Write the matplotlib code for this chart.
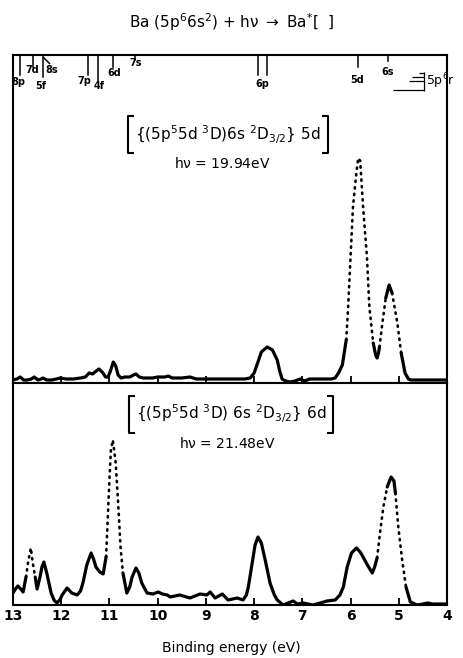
import matplotlib
matplotlib.use("Agg")
import matplotlib.pyplot as plt
from matplotlib.lines import Line2D
import numpy as np

plt.rcParams['font.family'] = ['DejaVu Sans']
plt.rcParams['mathtext.default'] = 'regular'

# spectrum for hv = 19.94 eV (5d satellite), binding energy in eV, intensity arb. units
top_energy = [13.0, 12.92, 12.85, 12.78, 12.7, 12.62, 12.56, 12.48, 12.42, 12.38,
              12.3, 12.2, 12.1, 12.02, 11.9, 11.75, 11.6, 11.5, 11.42, 11.35,
              11.3, 11.22, 11.15, 11.08, 11.03, 10.98, 10.92, 10.87, 10.82, 10.76,
              10.68, 10.58, 10.5, 10.45, 10.38, 10.3, 10.2, 10.1, 10.0, 9.85,
              9.78, 9.7, 9.5, 9.33, 9.2, 9.0, 8.8, 8.6, 8.4, 8.2,
              8.08, 8.0, 7.92, 7.85, 7.73, 7.62, 7.55, 7.52, 7.47, 7.42,
              7.35, 7.25, 7.15, 7.05, 6.95, 6.85, 6.7, 6.5, 6.4, 6.32,
              6.25, 6.17, 6.09, 6.05, 6.0, 5.95, 5.88, 5.84, 5.8, 5.74,
              5.66, 5.61, 5.53, 5.48, 5.45, 5.42, 5.4, 5.34, 5.27, 5.2,
              5.14, 5.08, 5.03, 4.95, 4.87, 4.8, 4.75, 4.5, 4.3, 4.0]
top_counts = [3, 4, 6, 3, 3, 4, 6, 3, 4, 5,
              3, 3, 4, 5, 4, 4, 5, 6, 10, 9,
              11, 14, 11, 6, 6, 12, 21, 17, 8, 5,
              6, 6, 8, 9, 6, 5, 5, 5, 6, 6,
              7, 5, 5, 6, 4, 4, 4, 4, 4, 4,
              5, 10, 21, 31, 36, 33, 26, 23, 12, 4,
              2, 1, 2, 4, 2, 4, 4, 4, 4, 5,
              10, 18, 43, 76, 126, 176, 210, 225, 222, 176,
              126, 76, 40, 28, 25, 30, 36, 60, 85, 98,
              90, 74, 60, 30, 10, 4, 3, 3, 3, 3]
top_dotted = [(6.09, 5.53), (5.40, 5.27), (5.14, 4.95)]

# spectrum for hv = 21.48 eV (6d satellite)
bottom_energy = [13.0, 12.95, 12.9, 12.84, 12.79, 12.73, 12.69, 12.63, 12.59, 12.54,
                 12.5, 12.44, 12.4, 12.36, 12.3, 12.21, 12.15, 12.09, 12.03, 11.98,
                 11.88, 11.78, 11.67, 11.6, 11.55, 11.47, 11.38, 11.33, 11.28, 11.2,
                 11.13, 11.07, 11.03, 11.0, 10.97, 10.93, 10.87, 10.82, 10.77, 10.72,
                 10.64, 10.58, 10.53, 10.45, 10.39, 10.33, 10.22, 10.1, 9.99, 9.9,
                 9.8, 9.74, 9.54, 9.33, 9.12, 8.98, 8.91, 8.81, 8.66, 8.54,
                 8.35, 8.23, 8.16, 8.12, 8.04, 7.98, 7.92, 7.85, 7.77, 7.67,
                 7.58, 7.52, 7.4, 7.19, 7.1, 6.98, 6.78, 6.63, 6.49, 6.32,
                 6.22, 6.15, 6.07, 5.98, 5.88, 5.8, 5.74, 5.65, 5.55, 5.5,
                 5.45, 5.39, 5.32, 5.24, 5.16, 5.1, 5.07, 5.01, 4.93, 4.85,
                 4.76, 4.62, 4.5, 4.4, 4.3, 4.0]
bottom_counts = [12, 16, 19, 16, 13, 28, 42, 57, 42, 28,
                 16, 28, 38, 43, 32, 12, 5, 2, 5, 10,
                 17, 12, 10, 14, 22, 40, 52, 46, 38, 33,
                 31, 48, 92, 125, 155, 165, 142, 102, 58, 32,
                 12, 18, 28, 37, 32, 22, 12, 11, 13, 11,
                 10, 8, 10, 7, 11, 10, 13, 7, 11, 5,
                 7, 5, 10, 18, 42, 60, 68, 62, 45, 22,
                 10, 5, 0, 4, 1, 2, 0, 2, 4, 5,
                 10, 18, 38, 52, 57, 53, 48, 40, 32, 38,
                 47, 72, 98, 118, 128, 124, 112, 78, 45, 18,
                 3, 0, 1, 2, 1, 1]
bottom_dotted = [(12.73, 12.54), (11.07, 10.72), (5.45, 5.24), (5.07, 4.85)]

x_ticks = [13, 12, 11, 10, 9, 8, 7, 6, 5, 4]

# atomic Ba levels marked along the top
level_energies = [12.85, 12.58, 12.38, 11.44, 11.24, 10.93, 10.47, 7.92, 7.73, 5.84, 5.22]
level_lengths = [20, 12, 22, 20, 27, 12, 5, 20, 20, 12, 6]  # px
level_labels = [('8p', 18, 82), ('7d', 32, 70), ('5f', 41, 86), ('8s', 52, 70),
                ('7p', 84, 81), ('4f', 99, 86), ('6d', 114, 73), ('7s', 136, 63),
                ('6p', 262, 84), ('5d', 357, 80), ('6s', 388, 72)]

W, H = 463, 658


def fx(x):
    return x / W


def fy(y):
    return 1 - y / H


def line(xs, ys, lw=1.0):
    fig.add_artist(Line2D([fx(v) for v in xs], [fy(v) for v in ys],
                          color='black', lw=lw, solid_capstyle='butt'))


def bracket(x, y0, y1, side):
    # tall square bracket drawn as lines; side=+1 opens right, -1 opens left
    line([x + side * 6, x, x, x + side * 6], [y0, y0, y1, y1], lw=1.5)


def draw_trace(ax, energy, counts, dotted):
    e = np.asarray(energy, dtype=float)
    c = np.asarray(counts, dtype=float)
    is_dot = np.array([any(lo - 1e-9 <= v <= hi + 1e-9 for hi, lo in dotted) for v in e])
    seg_dot = is_dot[:-1] & is_dot[1:]
    start = 0
    for i in range(1, len(seg_dot) + 1):
        if i == len(seg_dot) or seg_dot[i] != seg_dot[start]:
            xs, ys = e[start:i + 1], c[start:i + 1]
            if seg_dot[start]:
                ax.plot(xs, ys, color='black', lw=1.9, ls=(0, (0.5, 2.0)),
                        dash_capstyle='round')
            else:
                ax.plot(xs, ys, color='black', lw=2.3,
                        solid_joinstyle='round', solid_capstyle='round')
            start = i


fig = plt.figure(figsize=(W / 100, H / 100), dpi=100)
fig.patch.set_facecolor('white')

ax_top = fig.add_axes([fx(13), fy(383), fx(447) - fx(13), 328 / H])
ax_bot = fig.add_axes([fx(13), fy(605), fx(447) - fx(13), 222 / H])

draw_trace(ax_top, top_energy, top_counts, top_dotted)
draw_trace(ax_bot, bottom_energy, bottom_counts, bottom_dotted)

ax_top.set_ylim(0, 328)
ax_bot.set_ylim(0, 222)
for ax in (ax_top, ax_bot):
    ax.set_xlim(13, 4)
    ax.set_xticks(x_ticks)
    ax.set_yticks([])
    ax.tick_params(axis='x', direction='in', length=5, width=1.3, top=False)
    for sp in ax.spines.values():
        sp.set_linewidth(1.5)
ax_top.set_xticklabels([])
ax_bot.set_xticklabels([str(t) for t in x_ticks], fontsize=10, fontweight='bold')
ax_bot.tick_params(axis='x', pad=3)

# level markers hanging from the top frame
trans = ax_top.get_xaxis_transform()
for e, L in zip(level_energies, level_lengths):
    ax_top.plot([e, e], [1, 1 - L / 328], color='black', lw=1.1,
                transform=trans, clip_on=False)
for name, x, y in level_labels:
    fig.text(fx(x), fy(y), name, ha='center', va='center', fontsize=7, fontweight='bold')
line([43, 50], [57, 64], lw=1.1)

# 5p6 limit bracket
for x0, y in [(419, 73), (412, 77), (409, 81), (393, 90)]:
    line([x0, 424], [y, y], lw=0.9)
line([424, 424], [72, 91], lw=0.9)
fig.text(fx(426), fy(81), r'5p$^6$r', ha='left', va='center', fontsize=9)

# titles and panel labels
fig.text(0.5, fy(22), r'Ba (5p$^6$6s$^2$) + h$\nu$ $\rightarrow$ Ba$^{*}$[  ]',
         ha='center', va='center', fontsize=11)

fig.text(fx(228), fy(135), r'$\{(5p^5 5d\ {}^3D)6s\ {}^2D_{3/2}\}\ 5d$',
         ha='center', va='center', fontsize=11)
bracket(128, 116, 153, +1)
bracket(328, 116, 153, -1)
fig.text(fx(222), fy(164), r'h$\nu$ = 19.94eV', ha='center', va='center', fontsize=10)

fig.text(fx(231), fy(414), r'$\{(5p^5 5d\ {}^3D)\ 6s\ {}^2D_{3/2}\}\ 6d$',
         ha='center', va='center', fontsize=11)
bracket(129, 396, 433, +1)
bracket(333, 396, 433, -1)
fig.text(fx(227), fy(443), r'h$\nu$ = 21.48eV', ha='center', va='center', fontsize=10)

fig.text(0.5, fy(648), 'Binding energy (eV)', ha='center', va='center', fontsize=10)

fig.savefig('out.png', dpi=100, facecolor='white')
